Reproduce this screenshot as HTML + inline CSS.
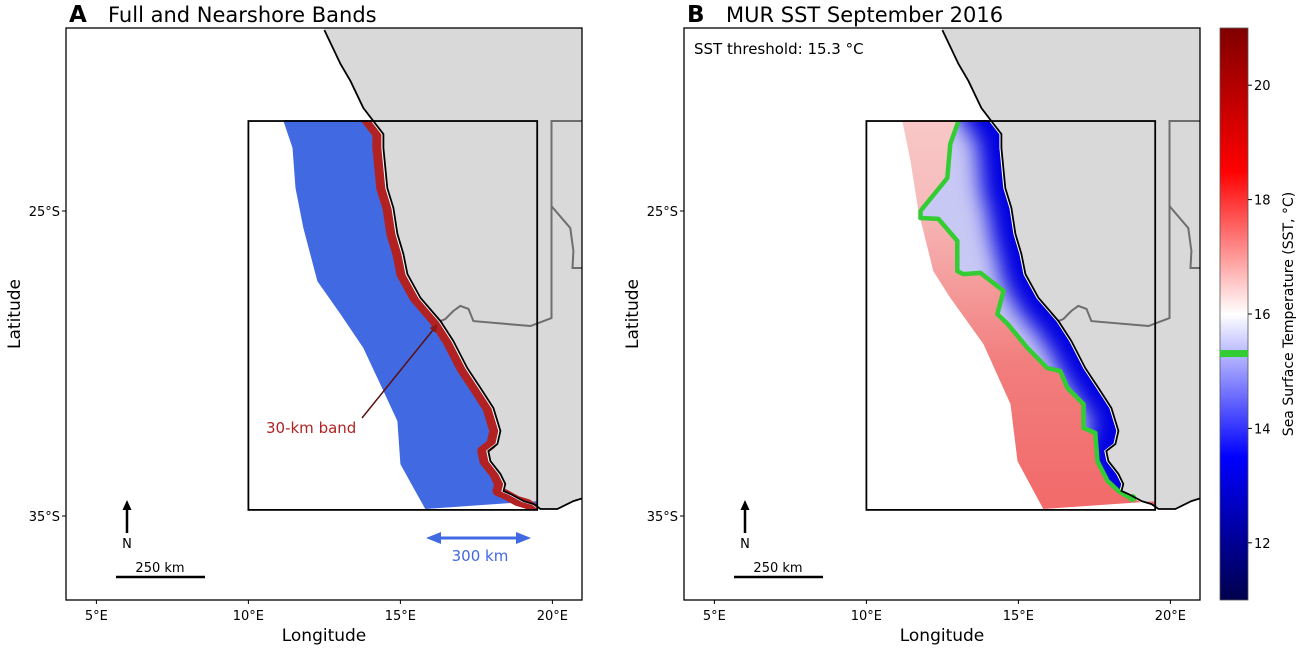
<!DOCTYPE html>
<html><head><meta charset="utf-8"><style>
html,body{margin:0;padding:0;background:#fff;}
svg{display:block;font-family:"DejaVu Sans","Liberation Sans",sans-serif;}
</style></head><body>
<svg id="fig" width="1299" height="648" viewBox="0 0 1299 648" xmlns="http://www.w3.org/2000/svg">
<defs>
<clipPath id="clipA"><rect x="66" y="28" width="516" height="572"/></clipPath>
<clipPath id="clipB"><rect x="684" y="28" width="516" height="572"/></clipPath>
<clipPath id="boxA"><rect x="248" y="120" width="289" height="389"/></clipPath>
<clipPath id="boxB"><rect x="866" y="120" width="289" height="389"/></clipPath>
<clipPath id="blueClip"><polygon id="bluePolyClip"/></clipPath>
<linearGradient id="redGrad" x1="0" y1="0" x2="0" y2="1">
<stop offset="0" stop-color="#f9d4d4"/><stop offset="0.35" stop-color="#f7bcbc"/><stop offset="0.7" stop-color="#f27d7d"/><stop offset="1" stop-color="#f26a6a"/>
</linearGradient>
<linearGradient id="cbGrad" x1="0" y1="1" x2="0" y2="0">
<stop offset="0" stop-color="#00004c"/><stop offset="0.25" stop-color="#0000ff"/><stop offset="0.5" stop-color="#ffffff"/><stop offset="0.75" stop-color="#ff0000"/><stop offset="1" stop-color="#800000"/>
</linearGradient>
<filter id="blur" x="-20%" y="-20%" width="140%" height="140%"><feGaussianBlur stdDeviation="11"/></filter>
<marker id="ahRed" markerWidth="8" markerHeight="8" refX="7" refY="4" orient="auto" markerUnits="userSpaceOnUse"><path d="M0,0 L8,4 L0,8 z" fill="#8b1a1a"/></marker>
</defs>
<g id="panelA"></g>
<g id="panelB"></g>
<g id="cbar"></g>
</svg>
<script>
// ---- data ----
const coastLon=[12.50,13.03,13.36,13.78,14.11,14.44,14.44,14.57,14.77,14.90,15.10,15.23,15.66,16.32,16.74,17.20,17.63,18.06,18.29,18.19,17.89,17.96,18.29,18.45,18.39,18.62,19.05,19.38,19.61,20.16,20.69,21.02];
const coastLat=[-19.07,-20.18,-20.74,-21.62,-22.05,-22.48,-22.93,-24.25,-24.90,-25.75,-26.41,-27.07,-27.85,-28.61,-29.26,-30.15,-30.80,-31.46,-32.21,-32.64,-32.87,-33.20,-33.62,-33.95,-34.18,-34.28,-34.51,-34.61,-34.77,-34.77,-34.51,-34.41];
const bandLon=[11.15,11.45,11.55,11.81,12.27,13.03,13.78,14.44,14.90,15.00,15.43,15.82];
const bandLat=[-22.05,-22.93,-24.25,-25.56,-27.30,-28.38,-29.49,-30.90,-31.89,-33.30,-34.08,-34.77];
const sstEdgeLon=[11.18,11.45,11.71,12.20,12.76,13.85,14.74,14.97,15.82];
const sstEdgeLat=[-22.05,-23.36,-25.00,-26.97,-27.85,-29.36,-31.33,-33.20,-34.77];
const contourLon=[13.03,12.76,12.66,12.37,11.78,11.78,12.37,12.99,12.99,13.19,13.75,14.51,14.31,14.64,15.30,15.95,16.38,16.61,17.14,17.14,17.53,17.60,17.93,18.29,18.68];
const contourLat=[-22.05,-22.80,-23.92,-24.28,-25.00,-25.23,-25.26,-25.98,-26.97,-27.07,-27.03,-27.62,-28.38,-28.70,-29.49,-30.15,-30.25,-30.80,-31.33,-32.11,-32.28,-33.20,-33.85,-34.18,-34.41];
const border1Lon=[21.02,19.97,19.97,19.28,17.40,17.24,16.97,16.74,16.48,16.32];
const border1Lat=[-22.05,-22.05,-28.51,-28.77,-28.61,-28.21,-28.11,-28.28,-28.54,-28.61];
const border2Lon=[19.97,20.59,20.69,20.66,21.02];
const border2Lat=[-24.84,-25.56,-26.31,-26.87,-26.87];
const boxLon=[10,19.5];
const boxLat=[-22.05,-34.8];
const lonTicks=[5,10,15,20];
const lonTickLabels=["5°E","10°E","15°E","20°E"];
const latTicks=[-25,-35];
const latTickLabels=["25°S","35°S"];
const cbTicks=[12,14,16,18,20];
const cbRange=[11,21];
const threshold=15.3;

// ---- axis functions ----
const X0=4.0, Y0=-19.0, SX=30.4, SY=30.5;
function px(lon,ox){return ox+(lon-X0)*SX;}
function py(lat){return 28+(Y0-lat)*SY;}
function cy(v){return 600-(v-cbRange[0])/(cbRange[1]-cbRange[0])*572;}
const NS="http://www.w3.org/2000/svg";
function mk(tag,attrs,parent,txt){const e=document.createElementNS(NS,tag);for(const k in attrs)e.setAttribute(k,attrs[k]);if(txt!==undefined)e.textContent=txt;parent.appendChild(e);return e;}
function pts(lons,lats,ox,dx){return lons.map((l,i)=>(px(l,ox)+(dx||0)).toFixed(1)+","+py(lats[i]).toFixed(1)).join(" ");}
function landPts(ox){return pts(coastLon,coastLat,ox)+" "+px(21.5,ox)+","+py(-34.4)+" "+px(21.5,ox)+","+py(-18.5)+" "+px(12.3,ox)+","+py(-18.5);}
const revCoastLon=coastLon.slice().reverse(), revCoastLat=coastLat.slice().reverse();
const coldCoastLon=coastLon.slice(0,26).reverse(), coldCoastLat=coastLat.slice(0,26).reverse();

function axesFrame(g,ox,clip){
  const land=mk('polygon',{points:landPts(ox),fill:'#d9d9d9',stroke:'none','clip-path':'url(#'+clip+')'},g);
  
  
}
function decorations(g,ox,clip,label){
  const b1=mk('polyline',{points:pts(border1Lon,border1Lat,ox),fill:'none',stroke:'#6e6e6e','stroke-width':2,'clip-path':'url(#'+clip+')'},g);
  
  
  const b2=mk('polyline',{points:pts(border2Lon,border2Lat,ox),fill:'none',stroke:'#6e6e6e','stroke-width':2,'clip-path':'url(#'+clip+')'},g);
  
  
  const cl=mk('polyline',{points:pts(coastLon,coastLat,ox),fill:'none',stroke:'#000','stroke-width':1.8,'clip-path':'url(#'+clip+')'},g);
  
  
  const bx=mk('rect',{x:px(boxLon[0],ox),y:py(boxLat[0]),width:px(boxLon[1],ox)-px(boxLon[0],ox),height:py(boxLat[1])-py(boxLat[0]),fill:'none',stroke:'#000','stroke-width':1.8},g);
  
  
  const fr=mk('rect',{x:ox,y:28,width:516,height:572,fill:'none',stroke:'#000','stroke-width':1.3},g);
  
  
  lonTicks.forEach((t,i)=>{
    const x=px(t,ox);
    mk('line',{x1:x,y1:600,x2:x,y2:604,stroke:'#000','stroke-width':1},g);
    const tl=mk('text',{x:x,y:620,'text-anchor':'middle','font-size':13,fill:'#000'},g,lonTickLabels[i]);
    
    
  });
  latTicks.forEach((t,i)=>{
    const y=py(t);
    mk('line',{x1:ox-4,y1:y,x2:ox,y2:y,stroke:'#000','stroke-width':1},g);
    const tl=mk('text',{x:ox-6,y:y+5,'text-anchor':'end','font-size':13,fill:'#000'},g,latTickLabels[i]);
    
    
  });
  const xt=mk('text',{x:ox+258,y:641,'text-anchor':'middle','font-size':17,fill:'#000'},g,'Longitude');
  
  
  const yt=mk('text',{x:ox-46,y:314,'text-anchor':'middle','font-size':17,fill:'#000',transform:'rotate(-90 '+(ox-46)+' 314)'},g,'Latitude');
  
  
  const na=ox+61;
  mk('line',{x1:na,y1:533,x2:na,y2:508,stroke:'#000','stroke-width':2.5},g);
  mk('polygon',{points:(na-4.5)+',510 '+na+',500 '+(na+4.5)+',510',fill:'#000'},g);
  const nt=mk('text',{x:na,y:548,'text-anchor':'middle','font-size':13,fill:'#000'},g,'N');
  
  
  const sb=mk('line',{x1:ox+50,y1:577,x2:ox+139,y2:577,stroke:'#000','stroke-width':2.5},g);
  
  
  mk('text',{x:ox+94,y:572,'text-anchor':'middle','font-size':13,fill:'#000'},g,'250 km');
  const tA=mk('text',{x:ox+3,y:22,'font-size':23,'font-weight':'bold',fill:'#000'},g,label[0]);
  
  
  const tt=mk('text',{x:ox+42,y:22,'font-size':21,fill:'#000'},g,label[1]);
  
  
}

// ---- Panel A ----
const gA=document.getElementById('panelA');
axesFrame(gA,66,'clipA');
const gAb=mk('g',{'clip-path':'url(#boxA)'},gA);
const blue=mk('polygon',{points:pts(bandLon,bandLat,66)+" "+pts(revCoastLon,revCoastLat,66),fill:'#4169e1'},gAb);


const red=mk('polyline',{points:pts(coastLon,coastLat,66,-6),fill:'none',stroke:'#b22222','stroke-width':10,'stroke-linejoin':'round'},gAb);


mk('polyline',{points:pts(coastLon,coastLat,66,-1),fill:'none',stroke:'#fff','stroke-width':2},gAb);
decorations(gA,66,'clipA',['A','Full and Nearshore Bands']);
const arr=mk('line',{x1:362,y1:418,x2:437,y2:325,stroke:'#5a1010','stroke-width':1.5,'marker-end':'url(#ahRed)'},gA);


const bl=mk('text',{x:266,y:433,'font-size':15,fill:'#b22222'},gA,'30-km band');


const da=mk('g',{},gA);


mk('line',{x1:440,y1:538,x2:518,y2:538,stroke:'#4169e1','stroke-width':3},da);
mk('polygon',{points:'426,538 441,532 441,544',fill:'#4169e1'},da);
mk('polygon',{points:'531,538 516,532 516,544',fill:'#4169e1'},da);
const wl=mk('text',{x:480,y:561,'text-anchor':'middle','font-size':15,fill:'#4169e1'},gA,'300 km');



// ---- Panel B ----
const gB=document.getElementById('panelB');
axesFrame(gB,684,'clipB');
const gBb=mk('g',{'clip-path':'url(#boxB)'},gB);
const warm=mk('polygon',{points:pts(sstEdgeLon,sstEdgeLat,684)+" "+pts(revCoastLon,revCoastLat,684),fill:'url(#redGrad)'},gBb);


const coldPts=pts(contourLon,contourLat,684)+" "+pts(coldCoastLon,coldCoastLat,684);
document.getElementById('bluePolyClip').setAttribute('points',coldPts);
const gCold=mk('g',{'clip-path':'url(#blueClip)'},gBb);
const cold=mk('polygon',{points:coldPts,fill:'#c8c8f5'},gCold);


mk('polyline',{points:pts(coastLon,coastLat,684,0),fill:'none',stroke:'#0000e0','stroke-width':48,filter:'url(#blur)'},gCold);
mk('polyline',{points:pts(coastLon,coastLat,684,-1),fill:'none',stroke:'#fff','stroke-width':2},gBb);
const ct=mk('polyline',{points:pts(contourLon,contourLat,684),fill:'none',stroke:'#33cc33','stroke-width':4.5,'stroke-linejoin':'round'},gBb);


mk('circle',{cx:px(18.68,684)+2,cy:py(-34.41),r:4,fill:'#33cc33'},gBb);
decorations(gB,684,'clipB',['B','MUR SST September 2016']);
const th=mk('text',{x:694,y:54,'font-size':15,fill:'#000'},gB,'SST threshold: '+threshold+' °C');



// ---- Colorbar ----
const gC=document.getElementById('cbar');
const cb=mk('rect',{x:1220,y:28,width:28,height:572,fill:'url(#cbGrad)',stroke:'#555','stroke-width':0.8},gC);


const gm=mk('rect',{x:1220,y:cy(threshold)-4,width:28,height:7,fill:'#33cc33'},gC);


cbTicks.forEach(t=>{
  const y=cy(t);
  mk('line',{x1:1248,y1:y,x2:1252,y2:y,stroke:'#000','stroke-width':1},gC);
  const tl=mk('text',{x:1254,y:y+5,'font-size':13,fill:'#000'},gC,String(t));
  
  
});
const ctl=mk('text',{x:1293,y:314,'text-anchor':'middle','font-size':14,fill:'#000',transform:'rotate(-90 1293 314)'},gC,'Sea Surface Temperature (SST, °C)');


</script>
</body></html>
